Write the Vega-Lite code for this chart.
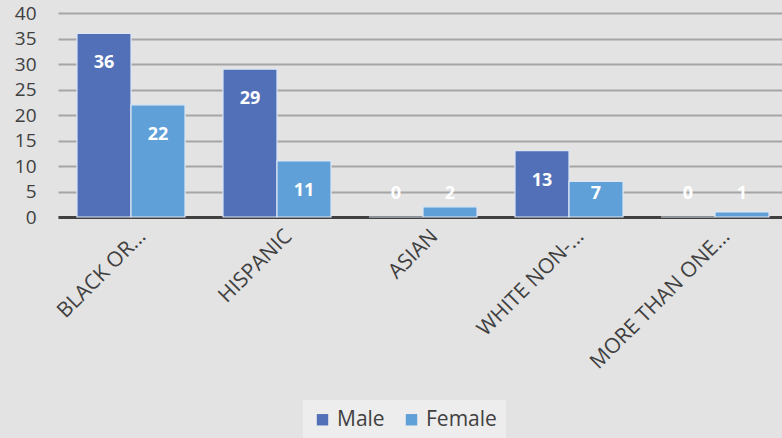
{
  "$schema": "https://vega.github.io/schema/vega-lite/v6.json",
  "autosize": {"type": "none"},
  "padding": {"left": 58, "top": 13, "right": 0, "bottom": 221},
  "width": 730,
  "height": 204,
  "background": "#e3e3e3",
  "config": {
    "view": {"stroke": null},
    "font": "Open Sans",
    "axisY": {
      "title": null, "domain": false, "ticks": false,
      "gridColor": "#a6a6a6", "gridWidth": 2, "labelFontSize": 19, "labelColor": "#404040",
      "labelPadding": 22, "labelOverlap": false, "labelFont": "Open Sans"
    }
  },
  "data": {
    "values": [
      {"group": "BLACK OR...", "sex": "Male", "value": 36},
      {"group": "BLACK OR...", "sex": "Female", "value": 22},
      {"group": "HISPANIC", "sex": "Male", "value": 29},
      {"group": "HISPANIC", "sex": "Female", "value": 11},
      {"group": "ASIAN", "sex": "Male", "value": 0},
      {"group": "ASIAN", "sex": "Female", "value": 2},
      {"group": "WHITE NON-...", "sex": "Male", "value": 13},
      {"group": "WHITE NON-...", "sex": "Female", "value": 7},
      {"group": "MORE THAN ONE...", "sex": "Male", "value": 0},
      {"group": "MORE THAN ONE...", "sex": "Female", "value": 1}
    ]
  },
  "encoding": {
    "x": {
      "field": "group", "type": "nominal", "sort": null,
      "scale": {"paddingInner": 0.26, "paddingOuter": 0.13},
      "axis": {
        "title": null, "labelAngle": -45, "labelFontSize": 21, "labelColor": "#404040",
        "ticks": false, "domainColor": "#404040", "domainWidth": 3, "labelLimit": 400,
        "labelPadding": 8, "labelOffset": 4, "labelFont": "Open Sans"
      }
    },
    "xOffset": {"field": "sex", "type": "nominal", "sort": ["Male", "Female"]}
  },
  "layer": [
    {
      "mark": {"type": "bar", "stroke": "#dde7f4", "strokeWidth": 1.2},
      "encoding": {
        "y": {
          "field": "value", "type": "quantitative",
          "scale": {"domain": [0, 40]},
          "axis": {"title": null, "values": [0, 5, 10, 15, 20, 25, 30, 35, 40]}
        },
        "color": {
          "field": "sex", "type": "nominal",
          "scale": {"domain": ["Male", "Female"], "range": ["#5270b8", "#60a0d8"]},
          "legend": {
            "title": null, "orient": "none", "direction": "horizontal",
            "legendX": 245, "legendY": 387, "fillColor": "#ededed", "padding": 9,
            "symbolType": "square", "symbolSize": 130, "symbolStrokeWidth": 0,
            "labelFontSize": 21, "labelColor": "#404040", "columnPadding": 16
          }
        }
      }
    },
    {
      "transform": [{"filter": "datum.value >= 10"}],
      "mark": {"type": "text", "color": "white", "fontWeight": "bold", "fontSize": 18, "dy": 30, "baseline": "middle"},
      "encoding": {
        "y": {"field": "value", "type": "quantitative", "axis": {"title": null, "values": [0, 5, 10, 15, 20, 25, 30, 35, 40]}},
        "text": {"field": "value", "type": "quantitative"}
      }
    },
    {
      "transform": [{"filter": "datum.value < 10"}],
      "mark": {"type": "text", "color": "white", "fontWeight": "bold", "fontSize": 18, "baseline": "middle"},
      "encoding": {
        "y": {"datum": 4.6, "type": "quantitative", "axis": {"title": null, "values": [0, 5, 10, 15, 20, 25, 30, 35, 40]}},
        "text": {"field": "value", "type": "quantitative"}
      }
    }
  ]
}
